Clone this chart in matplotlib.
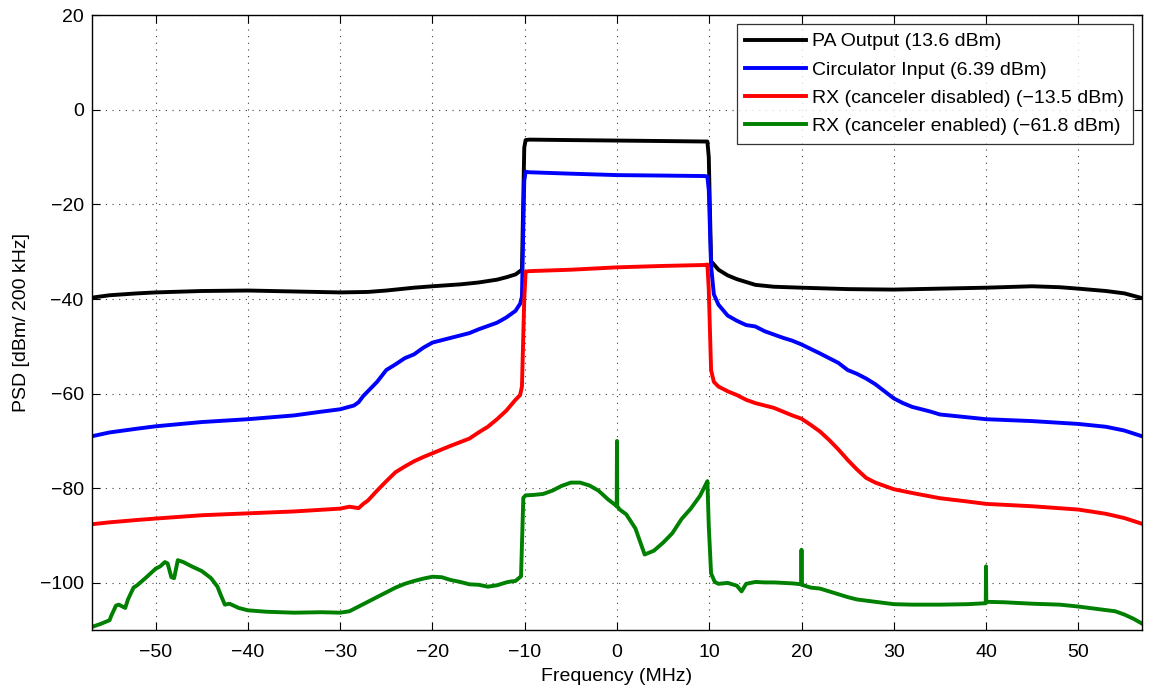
import matplotlib
matplotlib.use('Agg')
import matplotlib.pyplot as plt

plt.rcParams['font.family'] = ['Liberation Sans', 'DejaVu Sans']

# PA output
pa_f = [-56.9, -55, -52, -50, -45, -40, -35, -30, -27, -25, -22, -20, -17, -15, -13, -12, -11, -10.3,
        -10.05, -9.9, -9.5, -5, 0, 5, 9.5, 9.8, 9.95, 10.2, 11, 12, 13, 15, 17, 20, 25, 30, 35, 40,
        45, 48, 50, 53, 55, 56.9]
pa_p = [-39.7, -39.2, -38.8, -38.6, -38.3, -38.2, -38.4, -38.6, -38.5, -38.2, -37.6, -37.3, -36.9,
        -36.5, -35.9, -35.4, -34.8, -33.8,
        -8.0, -6.4, -6.3, -6.4, -6.5, -6.6, -6.7, -6.7, -10.0, -32.0, -33.8, -35.0, -35.8, -37.0,
        -37.4, -37.6, -37.9, -38.0, -37.8, -37.6, -37.3, -37.5, -37.8, -38.3, -38.8, -39.8]

# Circulator input
ci_f = [-56.9, -55, -52, -50, -45, -40, -35, -32, -30, -28.5, -28, -27.5, -27, -26, -25, -24,
        -23, -22, -21, -20, -18, -16, -15, -14, -13, -12, -11, -10.5, -10.3,
        -10.05, -9.9, -9.5, -5, 0, 5, 9.5, 9.8, 9.95, 10.2, 10.5, 11, 12, 13, 14, 15, 16, 17, 18,
        19, 20, 22, 24, 25, 26, 27, 28, 29, 30, 31, 32, 34, 35, 38, 40, 45, 50, 53, 55, 56.9]
ci_p = [-69.0, -68.2, -67.4, -66.9, -66.0, -65.4, -64.6, -63.8, -63.3, -62.5, -61.8, -60.5, -59.5,
        -57.5, -55.0, -53.8, -52.5, -51.7, -50.3, -49.2, -48.2, -47.2, -46.4, -45.7, -45.0, -43.9,
        -42.5, -41.0, -39.5,
        -15.0, -13.1, -13.2, -13.5, -13.8, -13.9, -14.0, -14.1, -17.0, -33.0, -39.0, -41.2, -43.5,
        -44.6, -45.5, -45.8, -46.8, -47.5, -48.2, -48.8, -49.6, -51.5, -53.5, -55.0, -55.8, -56.8,
        -58.0, -59.5, -61.0, -62.0, -62.8, -63.8, -64.4, -65.0, -65.4, -65.8, -66.4, -67.0, -67.8,
        -69.0]

# RX, canceler disabled
rd_f = [-56.9, -55, -52, -50, -45, -40, -35, -30, -29, -28, -27.5, -27, -26, -25, -24, -23, -22,
        -21, -20, -18, -16, -15, -14, -13, -12, -11, -10.5, -10.3,
        -10.05, -9.9, -9.5, -5, 0, 5, 9.5, 9.8, 9.95, 10.2, 10.5, 11, 12, 13, 14, 15, 17, 19, 20,
        21, 22, 23, 24, 25, 26, 27, 28, 30, 32, 35, 38, 40, 45, 50, 53, 55, 56.9]
rd_p = [-87.6, -87.2, -86.7, -86.4, -85.7, -85.3, -84.9, -84.3, -83.9, -84.2, -83.3, -82.6, -80.5,
        -78.5, -76.6, -75.4, -74.3, -73.4, -72.6, -71.0, -69.5, -68.2, -67.0, -65.4, -63.6, -61.3,
        -60.3, -58.5,
        -40.0, -34.2, -34.1, -33.8, -33.3, -33.0, -32.8, -32.7, -38.0, -55.0, -57.5, -58.5, -59.5,
        -60.3, -61.3, -62.0, -63.0, -64.6, -65.3, -66.6, -68.0, -69.8, -71.8, -74.0, -76.0, -77.8,
        -78.8, -80.2, -81.0, -82.1, -82.8, -83.3, -83.8, -84.5, -85.4, -86.3, -87.5]

# RX, canceler enabled
re_f = [-56.9, -56, -55, -54.8, -54.3, -54, -53.3, -53, -52.4, -52,
        -51, -50, -49.5, -49, -48.7, -48.3, -48, -47.6, -47, -46,
        -45, -44, -43.3, -43, -42.5, -42, -41, -40, -38, -35,
        -32, -30, -29, -28, -27, -26, -25, -24, -23, -22,
        -21, -20, -19, -18, -17, -16, -15, -14, -13, -12,
        -11.5, -11, -10.4,
        -10.15, -9.9, -9, -8, -7, -6, -5, -4, -3, -2,
        -1, -0.2, -0.03, 0.0, 0.03, 0.3, 1, 2, 3, 4,
        5, 6, 7, 8, 9, 9.8,
        9.95, 10.2, 10.6, 11, 12, 13, 13.5, 14, 15, 16, 17,
        18, 19, 19.97, 20.0, 20.03, 21, 22, 23, 24, 25,
        26, 28, 30, 32, 35, 38, 39.97, 40.0, 40.03, 42,
        45, 48, 50, 52, 54, 55, 56, 56.9]
re_p = [-109.3, -108.7, -107.9, -106.9, -104.8, -104.6, -105.3, -103.5, -101.0, -100.5,
        -98.8, -97.0, -96.5, -95.6, -95.9, -98.8, -99.0, -95.2, -95.6, -96.6,
        -97.5, -99.0, -100.8, -102.3, -104.6, -104.4, -105.3, -105.8, -106.1, -106.3,
        -106.2, -106.3, -106.0, -105.0, -104.0, -103.0, -102.0, -101.0, -100.2, -99.6,
        -99.1, -98.7, -98.8, -99.4, -99.8, -100.3, -100.4, -100.8, -100.5, -99.9,
        -99.7, -99.6, -98.6,
        -82.0, -81.5, -81.4, -81.2, -80.5, -79.5, -78.8, -78.8, -79.4, -80.5,
        -82.3, -83.5, -83.8, -70.0, -83.8, -84.5, -85.5, -88.5, -94.0, -93.2,
        -91.5, -89.5, -86.5, -84.3, -81.6, -78.5,
        -88.0, -98.0, -99.8, -100.2, -100.0, -100.6, -101.8, -100.2, -99.8, -99.9, -99.9,
        -100.0, -100.1, -100.3, -93.0, -100.4, -101.0, -101.2, -101.8, -102.4, -103.0,
        -103.5, -104.0, -104.5, -104.6, -104.6, -104.5, -104.3, -96.5, -104.0, -104.1,
        -104.4, -104.6, -105.0, -105.5, -106.0, -106.7, -107.6, -108.6]

labels = ['PA Output (13.6 dBm)', 'Circulator Input (6.39 dBm)',
          'RX (canceler disabled) (\u221213.5 dBm)', 'RX (canceler enabled) (\u221261.8 dBm)']
colors = ['black', 'blue', 'red', 'green']

fig = plt.figure(figsize=(11.5, 6.91), dpi=100)
ax = fig.add_axes([0.080, 0.088, 0.913, 0.890])

for f, p, lab, c in zip([pa_f, ci_f, rd_f, re_f], [pa_p, ci_p, rd_p, re_p], labels, colors):
    ax.plot(f, p, color=c, lw=2.8, label=lab, solid_joinstyle='round')

ax.set_xlim(-56.9, 56.9)
ax.set_ylim(-110, 20)
ax.set_xticks(range(-50, 51, 10))
ax.set_yticks(range(-100, 21, 20))
ax.grid(True, color='0.25', linestyle=(0, (1, 5)), lw=0.8)
ax.tick_params(direction='in', length=6, width=0.8, top=True, right=True, labelsize=14)
ax.tick_params(axis='x', pad=10)
ax.tick_params(axis='y', pad=6)
for s in ax.spines.values():
    s.set_linewidth(1.0)

ax.set_xlabel('Frequency (MHz)', fontsize=14, labelpad=5)
ax.set_ylabel('PSD [dBm/ 200 kHz]', fontsize=14, labelpad=7)

leg = ax.legend(loc='upper right', fontsize=14, frameon=True, fancybox=False,
                edgecolor='black', borderaxespad=0.45, handlelength=3.1, labelspacing=0.55,
                borderpad=0.45, handletextpad=0.35)
leg.get_frame().set_linewidth(0.9)

fig.savefig('out.png', dpi=100)
